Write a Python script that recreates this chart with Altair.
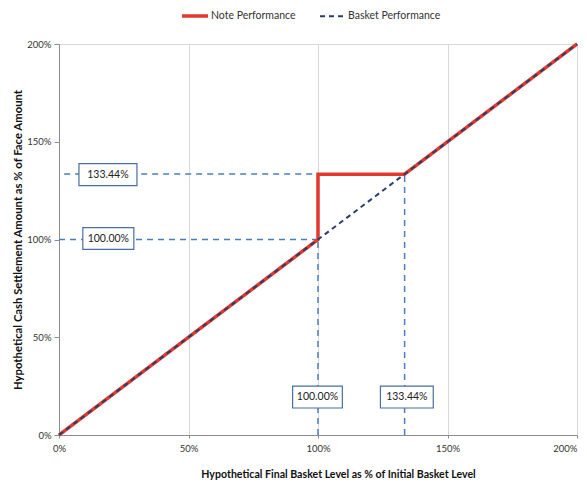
import altair as alt
import pandas as pd

# Series data
note_x = [0, 100, 100, 133.44, 200]
note_y = [0, 100, 133.44, 133.44, 200]
basket_x = [0, 200]
basket_y = [0, 200]

# Reference (dashed) guide lines: x, y, x2, y2
ref_x = [2, 0, 100, 133.44]
ref_y = [133.44, 100, 0, 0]
ref_x2 = [133.44, 100, 100, 133.44]
ref_y2 = [133.44, 100, 100, 133.44]

# Annotation boxes
box_text = ["133.44%", "100.00%", "100.00%", "133.44%"]
box_x = [7.7, 9.2, 90.2, 124.1]
box_x2 = [30.1, 28.9, 109.4, 144.5]
box_y = [127.6, 94.9, 13.8, 13.8]
box_y2 = [138.8, 106.1, 25.0, 25.0]

series_names = ["Note Performance", "Basket Performance"]

rows = []
for i, (x, y) in enumerate(zip(note_x, note_y)):
    rows.append({"series": series_names[0], "x": x, "y": y, "i": i})
for i, (x, y) in enumerate(zip(basket_x, basket_y)):
    rows.append({"series": series_names[1], "x": x, "y": y, "i": i})
lines_df = pd.DataFrame(rows)

ref_df = pd.DataFrame({"x": ref_x, "y": ref_y, "x2": ref_x2, "y2": ref_y2})
box_df = pd.DataFrame({"t": box_text, "x": box_x, "x2": box_x2, "y": box_y, "y2": box_y2})
box_df["cx"] = (box_df["x"] + box_df["x2"]) / 2
box_df["cy"] = (box_df["y"] + box_df["y2"]) / 2

FONT = "Lato"
xscale = alt.Scale(domain=[0, 200], nice=False)
yscale = alt.Scale(domain=[0, 200], nice=False)

xaxis = alt.Axis(values=[0, 50, 100, 150, 200], labelExpr="datum.value + '%'",
                 title="Hypothetical Final Basket Level as % of Initial Basket Level",
                 grid=True, gridColor="#d9d9d9", ticks=True, tickSize=3, tickColor="#8c8c8c",
                 labelPadding=5, labelFlush=False,
                 labelAlign=alt.ExprRef(expr="datum.value >= 200 ? 'right' : 'center'"),
                 labelFontSize=9.5, titleFontSize=10.6, titleFontWeight="bold",
                 titleX=279, titleY=39, titleBaseline="middle", titleAnchor="middle",
                 domainColor="#8c8c8c", labelColor="#333333",
                 titleColor="#111111", labelFont=FONT, titleFont=FONT)
yaxis = alt.Axis(values=[0, 50, 100, 150, 200], labelExpr="datum.value + '%'",
                 title="Hypothetical Cash Settlement Amount as % of Face Amount",
                 grid=False, tickSize=5, tickColor="#8c8c8c", labelPadding=3, labelFlush=False,
                 labelFontSize=9.5, titleFontSize=11.3, titleFontWeight="bold",
                 titlePadding=3, domainColor="#8c8c8c", labelColor="#333333",
                 titleColor="#111111", labelFont=FONT, titleFont=FONT)

refs = alt.Chart(ref_df).mark_rule(color="#4a7ebb", strokeWidth=1.5, strokeDash=[6, 5]).encode(
    x=alt.X("x:Q", scale=xscale, axis=xaxis),
    y=alt.Y("y:Q", scale=yscale, axis=yaxis),
    x2="x2:Q", y2="y2:Q",
)

lines = alt.Chart(lines_df).mark_line().encode(
    x=alt.X("x:Q", scale=xscale),
    y=alt.Y("y:Q", scale=yscale),
    color=alt.Color("series:N", scale=alt.Scale(domain=series_names, range=["#e03a2f", "#2a3d6b"]),
                    legend=alt.Legend(title=None, orient="none", direction="horizontal",
                                      legendX=121, legendY=-43, symbolType="stroke",
                                      symbolSize=676, symbolStrokeWidth=3, labelFont=FONT,
                                      labelFontSize=10.5, labelColor="#333333",
                                      columnPadding=20, labelOffset=1)),
    strokeDash=alt.StrokeDash("series:N", scale=alt.Scale(domain=series_names, range=[[1, 0], [5, 4]]), legend=None),
    strokeWidth=alt.StrokeWidth("series:N", scale=alt.Scale(domain=series_names, range=[3.5, 2]), legend=None),
    order="i:Q",
    detail="series:N",
)

boxes = alt.Chart(box_df).mark_rect(fill="white", stroke="#4a6fa0", strokeWidth=1.2).encode(
    x=alt.X("x:Q", scale=xscale), x2="x2:Q",
    y=alt.Y("y:Q", scale=yscale), y2="y2:Q",
)
labels = alt.Chart(box_df).mark_text(font=FONT, fontSize=10.5, color="#222222").encode(
    x=alt.X("cx:Q", scale=xscale),
    y=alt.Y("cy:Q", scale=yscale),
    text="t:N",
)

chart = alt.layer(refs, lines, boxes, labels).properties(
    width=518, height=391,
    autosize=alt.AutoSizeParams(type="none"),
    padding={"left": 51, "top": 36, "right": 2, "bottom": 45},
).configure_view(stroke="#d9d9d9")

chart.save("out.html", embed_options={"renderer": "svg", "actions": False})
